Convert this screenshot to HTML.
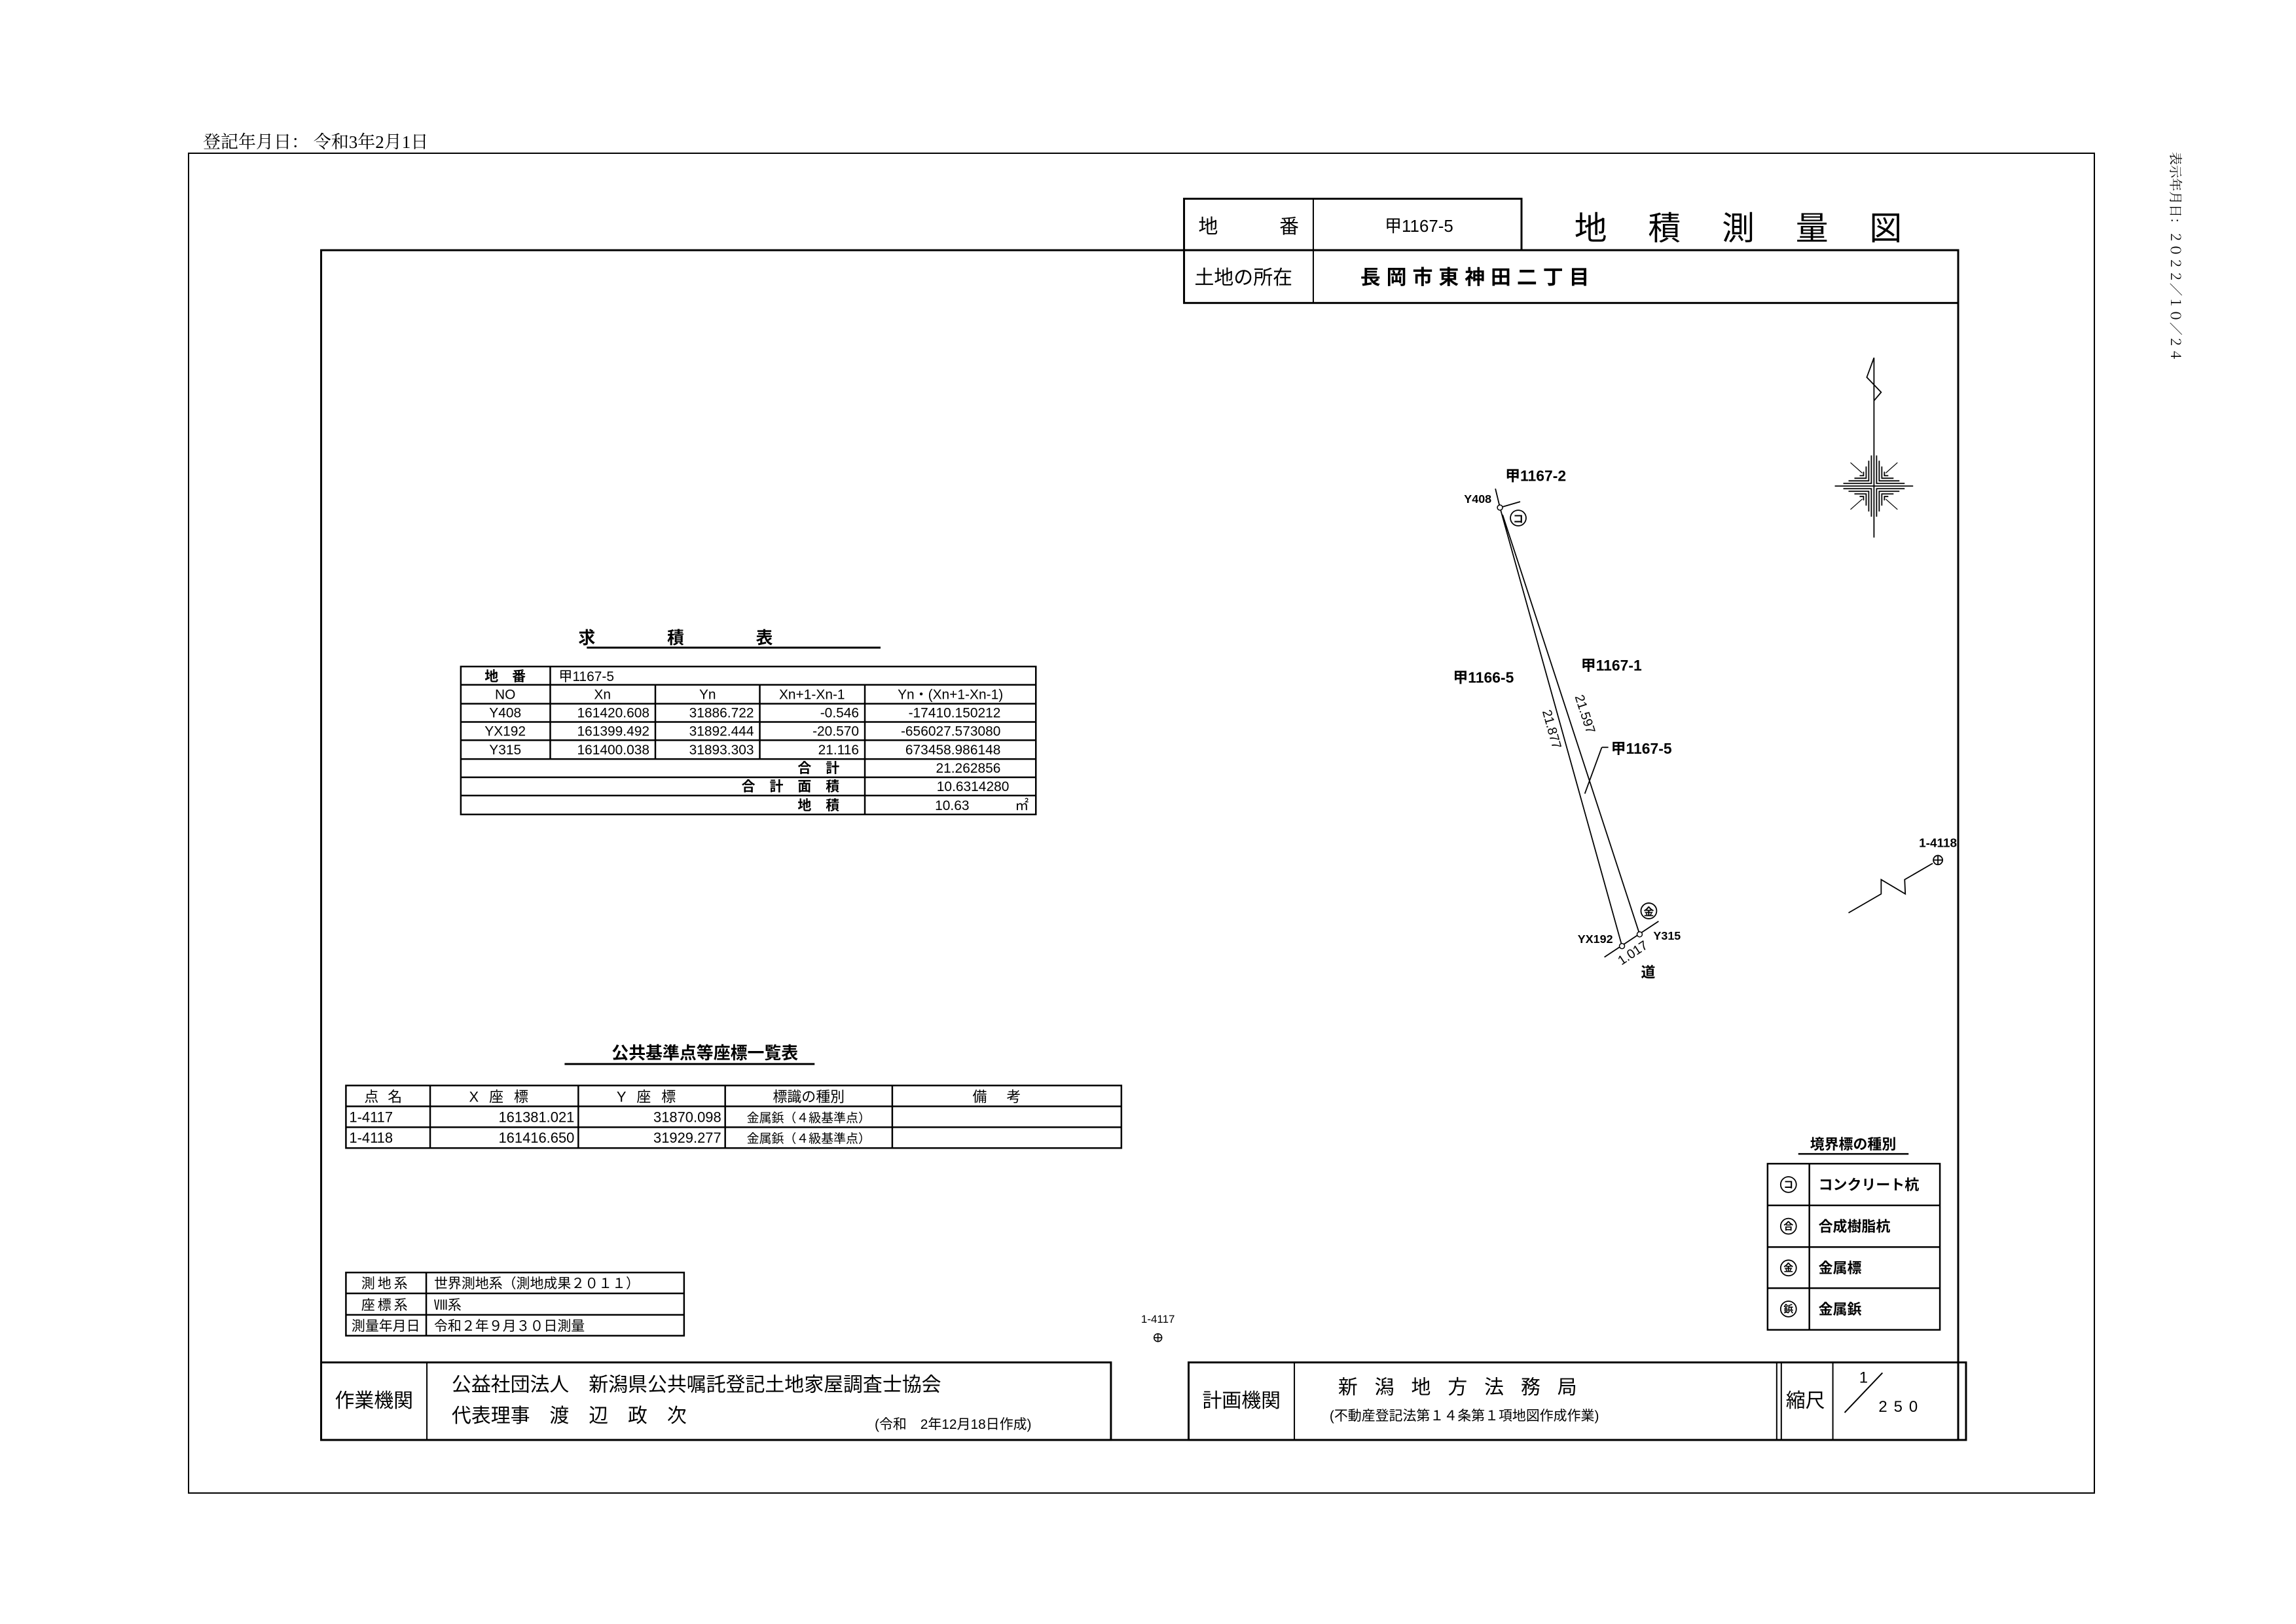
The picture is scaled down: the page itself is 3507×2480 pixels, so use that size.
<!DOCTYPE html>
<html><head><meta charset="utf-8">
<style>
html,body{margin:0;padding:0;background:#fff;}
svg{display:block;}
text{font-family:"Liberation Sans","Noto Sans CJK JP",sans-serif;fill:#000;}
.m{font-family:"Liberation Serif","Noto Serif CJK SC",serif;}
</style></head><body>
<svg width="3507" height="2480" viewBox="0 0 3507 2480" xmlns="http://www.w3.org/2000/svg">
<rect width="3507" height="2480" fill="#fff"/>
<text x="310" y="226" font-size="27" class="m">登記年月日： 令和3年2月1日</text>
<rect x="288" y="234" width="2911" height="2046" fill="none" stroke="#000" stroke-width="2"/>
<text transform="translate(3316,232) rotate(90)" font-size="20" class="m">表示年月日：２０２２／１０／２４</text>

<g transform="scale(0.997,0.995)">
<rect x="492" y="384" width="2508" height="1826" fill="none" stroke="#000" stroke-width="3"/>

<g stroke="#000" fill="none" stroke-width="3">
<rect x="1814" y="305" width="517" height="79"/>
<rect x="1814" y="384" width="1186" height="81" fill="#fff"/>
</g>
<line x1="2012" y1="305" x2="2012" y2="465" stroke="#000" stroke-width="2"/>
<text x="1836" y="358" font-size="30">地</text>
<text x="1960" y="358" font-size="30">番</text>
<text x="2174" y="356" font-size="26" text-anchor="middle">甲1167-5</text>
<text x="2412" y="368" font-size="50" letter-spacing="63">地積測量図</text>
<text x="1830" y="436" font-size="30">土地の所在</text>
<text x="2084" y="436" font-size="31" font-weight="bold" letter-spacing="9">長岡市東神田二丁目</text>

<text x="1090" y="988" font-size="26" font-weight="bold" text-anchor="middle" letter-spacing="110">求積表</text>
<line x1="899" y1="994" x2="1349" y2="994" stroke="#000" stroke-width="3"/>
<g stroke="#000" stroke-width="2.5" fill="none">
<rect x="706" y="1023" width="881" height="227"/>
<line x1="706" y1="1051" x2="1587" y2="1051"/>
<line x1="706" y1="1080" x2="1587" y2="1080"/>
<line x1="706" y1="1108" x2="1587" y2="1108"/>
<line x1="706" y1="1136" x2="1587" y2="1136"/>
<line x1="706" y1="1165" x2="1587" y2="1165"/>
<line x1="706" y1="1193" x2="1587" y2="1193"/>
<line x1="706" y1="1221" x2="1587" y2="1221"/>
<line x1="843" y1="1023" x2="843" y2="1165"/>
<line x1="1004" y1="1051" x2="1004" y2="1165"/>
<line x1="1164" y1="1051" x2="1164" y2="1165"/>
<line x1="1325" y1="1051" x2="1325" y2="1250"/>
</g>
<g font-size="21">
<text x="774" y="1045" text-anchor="middle" font-weight="bold">地　番</text>
<text x="856" y="1045">甲1167-5</text>
<text x="774" y="1073" text-anchor="middle">NO</text>
<text x="923" y="1073" text-anchor="middle">Xn</text>
<text x="1084" y="1073" text-anchor="middle">Yn</text>
<text x="1244" y="1073" text-anchor="middle">Xn+1-Xn-1</text>
<text x="1456" y="1073" text-anchor="middle">Yn・(Xn+1-Xn-1)</text>
<text x="774" y="1101" text-anchor="middle">Y408</text>
<text x="995" y="1101" text-anchor="end">161420.608</text>
<text x="1155" y="1101" text-anchor="end">31886.722</text>
<text x="1316" y="1101" text-anchor="end">-0.546</text>
<text x="1533" y="1101" text-anchor="end">-17410.150212</text>
<text x="774" y="1129" text-anchor="middle">YX192</text>
<text x="995" y="1129" text-anchor="end">161399.492</text>
<text x="1155" y="1129" text-anchor="end">31892.444</text>
<text x="1316" y="1129" text-anchor="end">-20.570</text>
<text x="1533" y="1129" text-anchor="end">-656027.573080</text>
<text x="774" y="1158" text-anchor="middle">Y315</text>
<text x="995" y="1158" text-anchor="end">161400.038</text>
<text x="1155" y="1158" text-anchor="end">31893.303</text>
<text x="1316" y="1158" text-anchor="end">21.116</text>
<text x="1533" y="1158" text-anchor="end">673458.986148</text>
<text x="1308" y="1186" text-anchor="end" font-weight="bold" letter-spacing="22">合計</text>
<text x="1533" y="1186" text-anchor="end">21.262856</text>
<text x="1308" y="1214" text-anchor="end" font-weight="bold" letter-spacing="22">合計面積</text>
<text x="1546" y="1214" text-anchor="end">10.6314280</text>
<text x="1308" y="1243" text-anchor="end" font-weight="bold" letter-spacing="22">地積</text>
<text x="1485" y="1243" text-anchor="end">10.63</text>
<text x="1576" y="1243" text-anchor="end">㎡</text>
</g>

<text x="1080" y="1625" font-size="26" font-weight="bold" text-anchor="middle">公共基準点等座標一覧表</text>
<line x1="865" y1="1633" x2="1248" y2="1633" stroke="#000" stroke-width="3"/>
<g stroke="#000" stroke-width="2.5" fill="none">
<rect x="530" y="1666" width="1188" height="96"/>
<line x1="530" y1="1698" x2="1718" y2="1698"/>
<line x1="530" y1="1730" x2="1718" y2="1730"/>
<line x1="659" y1="1666" x2="659" y2="1762"/>
<line x1="886" y1="1666" x2="886" y2="1762"/>
<line x1="1111" y1="1666" x2="1111" y2="1762"/>
<line x1="1367" y1="1666" x2="1367" y2="1762"/>
</g>
<g font-size="22">
<text x="594" y="1691" text-anchor="middle" letter-spacing="14">点名</text>
<text x="772" y="1691" text-anchor="middle" letter-spacing="16">X座標</text>
<text x="998" y="1691" text-anchor="middle" letter-spacing="16">Y座標</text>
<text x="1239" y="1691" text-anchor="middle">標識の種別</text>
<text x="1542" y="1691" text-anchor="middle" letter-spacing="30">備考</text>
<text x="535" y="1722">1-4117</text>
<text x="880" y="1722" text-anchor="end">161381.021</text>
<text x="1105" y="1722" text-anchor="end">31870.098</text>
<text x="1239" y="1722" text-anchor="middle" font-size="19">金属鋲（４級基準点）</text>
<text x="535" y="1754">1-4118</text>
<text x="880" y="1754" text-anchor="end">161416.650</text>
<text x="1105" y="1754" text-anchor="end">31929.277</text>
<text x="1239" y="1754" text-anchor="middle" font-size="19">金属鋲（４級基準点）</text>
</g>

<g stroke="#000" stroke-width="2.5" fill="none">
<rect x="530" y="1953" width="518" height="97"/>
<line x1="530" y1="1985" x2="1048" y2="1985"/>
<line x1="530" y1="2018" x2="1048" y2="2018"/>
<line x1="653" y1="1953" x2="653" y2="2050"/>
</g>
<g font-size="21">
<text x="591" y="1977" text-anchor="middle" letter-spacing="4">測地系</text>
<text x="591" y="2010" text-anchor="middle" letter-spacing="4">座標系</text>
<text x="591" y="2042" text-anchor="middle">測量年月日</text>
<text x="665" y="1977">世界測地系（測地成果２０１１）</text>
<text x="665" y="2010">Ⅷ系</text>
<text x="665" y="2042">令和２年９月３０日測量</text>
</g>
<text x="1774" y="2030" font-size="17" text-anchor="middle">1-4117</text>
<g stroke="#000" stroke-width="1.5" fill="none">
<circle cx="1774" cy="2053" r="6"/><line x1="1768" y1="2053" x2="1780" y2="2053"/><line x1="1774" y1="2047" x2="1774" y2="2059"/>
</g>

<g stroke="#000" stroke-width="3" fill="none">
<rect x="492" y="2091" width="1210" height="119"/>
<line x1="654" y1="2091" x2="654" y2="2210" stroke-width="2"/>
<rect x="1821" y="2091" width="1191" height="119"/>
<line x1="1983" y1="2091" x2="1983" y2="2210" stroke-width="2"/>
<line x1="2722" y1="2091" x2="2722" y2="2210" stroke-width="2"/>
<line x1="2729" y1="2091" x2="2729" y2="2210" stroke-width="2"/>
<line x1="2808" y1="2091" x2="2808" y2="2210" stroke-width="2"/>
<line x1="2884" y1="2107" x2="2826" y2="2168" stroke-width="2"/>
</g>
<text x="573" y="2160" font-size="30" text-anchor="middle">作業機関</text>
<text x="692" y="2135" font-size="30">公益社団法人　新潟県公共嘱託登記土地家屋調査士協会</text>
<text x="692" y="2183" font-size="30">代表理事　渡　辺　政　次</text>
<text x="1340" y="2193" font-size="21">(令和　2年12月18日作成)</text>
<text x="1902" y="2160" font-size="30" text-anchor="middle">計画機関</text>
<text x="2050" y="2139" font-size="30" letter-spacing="26">新潟地方法務局</text>
<text x="2037" y="2180" font-size="21">(不動産登記法第１４条第１項地図作成作業)</text>
<text x="2766" y="2160" font-size="30" text-anchor="middle">縮尺</text>
<text x="2855" y="2122" font-size="24" text-anchor="middle">1</text>
<text x="2878" y="2167" font-size="24" letter-spacing="10">250</text>

<g transform="translate(8,0)">
<g stroke="#000" fill="none" stroke-width="1.8">
<line x1="2283" y1="750" x2="2290" y2="779"/>
<line x1="2290" y1="779" x2="2321" y2="770"/>
<line x1="2290" y1="779" x2="2477" y2="1452"/>
<line x1="2294" y1="790" x2="2504" y2="1434"/>
<line x1="2450" y1="1469" x2="2533" y2="1414"/>
<line x1="2446" y1="1147" x2="2456" y2="1147"/>
<line x1="2446" y1="1147" x2="2420" y2="1218"/>
<circle cx="2318" cy="795" r="12"/>
<circle cx="2518" cy="1398" r="12"/>
</g>
<g stroke="#000" fill="#fff" stroke-width="1.5">
<circle cx="2290" cy="779" r="4"/>
<circle cx="2477" cy="1452" r="4"/>
<circle cx="2504" cy="1434" r="4"/>
</g>
<text x="2318" y="802" font-size="16" text-anchor="middle" font-weight="bold">コ</text>
<text x="2518" y="1405" font-size="16" text-anchor="middle" font-weight="bold">金</text>
<g font-size="23" font-weight="bold">
<text x="2298" y="738">甲1167-2</text>
<text x="2218" y="1048">甲1166-5</text>
<text x="2414" y="1029">甲1167-1</text>
<text x="2460" y="1157">甲1167-5</text>
</g>
<g font-size="18" font-weight="bold">
<text x="2277" y="772" text-anchor="end">Y408</text>
<text x="2463" y="1447" text-anchor="end">YX192</text>
<text x="2525" y="1442">Y315</text>
</g>
<text transform="translate(2363,1121) rotate(74.5)" font-size="20" text-anchor="middle">21.877</text>
<text transform="translate(2414,1098) rotate(72)" font-size="20" text-anchor="middle">21.597</text>
<text transform="translate(2497,1468) rotate(-33.5)" font-size="20" text-anchor="middle">1.017</text>
<text x="2517" y="1500" font-size="22" font-weight="bold" text-anchor="middle">道</text>

<g stroke="#000" fill="none" stroke-width="1.8">
<polyline points="2863,549 2852,579 2874,602 2863,615"/>
<line x1="2863" y1="549" x2="2863" y2="825"/>
<line x1="2803" y1="746" x2="2923" y2="746"/>
<g id="q">
<polyline points="2859,699 2859,742 2816,742"/>
<polyline points="2855,707 2855,738 2824,738"/>
<polyline points="2851,716 2851,734 2833,734"/>
<polyline points="2847,724 2847,730 2841,730"/>
<line x1="2827" y1="710" x2="2845" y2="726" stroke-width="1.2"/>
</g>
<use href="#q" transform="translate(5726,0) scale(-1,1)"/>
<use href="#q" transform="translate(0,1492) scale(1,-1)"/>
<use href="#q" transform="translate(5726,1492) scale(-1,-1)"/>
</g>

<text x="2961" y="1300" font-size="19" font-weight="bold" text-anchor="middle">1-4118</text>
<g stroke="#000" fill="none" stroke-width="1.8">
<polyline points="2824,1401 2874,1372 2874,1350 2911,1372 2910,1350 2953,1325"/>
<circle cx="2961" cy="1320" r="7"/>
<line x1="2954" y1="1320" x2="2968" y2="1320"/><line x1="2961" y1="1313" x2="2961" y2="1327"/>
</g>

<text x="2831" y="1764" font-size="22" font-weight="bold" text-anchor="middle">境界標の種別</text>
<line x1="2747" y1="1771" x2="2916" y2="1771" stroke="#000" stroke-width="2.5"/>
<g stroke="#000" stroke-width="2.5" fill="none">
<rect x="2700" y="1786" width="264" height="255"/>
<line x1="2700" y1="1850" x2="2964" y2="1850"/>
<line x1="2700" y1="1914" x2="2964" y2="1914"/>
<line x1="2700" y1="1977" x2="2964" y2="1977"/>
<line x1="2764" y1="1786" x2="2764" y2="2041"/>
</g>
<g stroke="#000" fill="none" stroke-width="1.8">
<circle cx="2732" cy="1818" r="12"/><circle cx="2732" cy="1882" r="12"/><circle cx="2732" cy="1946" r="12"/><circle cx="2732" cy="2009" r="12"/>
</g>
<g font-size="15" font-weight="bold" text-anchor="middle">
<text x="2732" y="1823">コ</text><text x="2732" y="1887">合</text><text x="2732" y="1951">金</text><text x="2732" y="2014">鋲</text>
</g>
<g font-size="22" font-weight="bold">
<text x="2778" y="1826">コンクリート杭</text>
<text x="2778" y="1890">合成樹脂杭</text>
<text x="2778" y="1954">金属標</text>
<text x="2778" y="2017">金属鋲</text>
</g>
</g>
</g>
</svg>
</body></html>
